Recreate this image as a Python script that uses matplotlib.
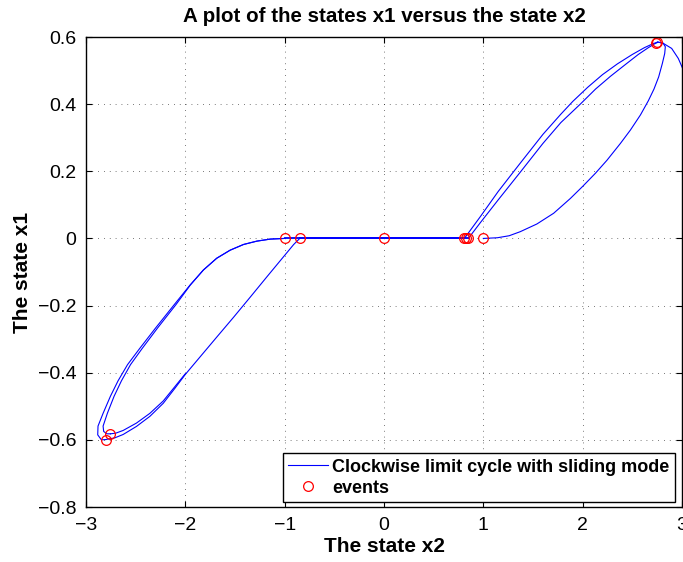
import matplotlib
matplotlib.use("Agg")
import matplotlib.pyplot as plt

plt.rcParams['font.family'] = ['Liberation Sans', 'DejaVu Sans']

# right loop, lower arc: (1,0) up to the peak
right_low_x = [1.0, 1.141, 1.26, 1.371, 1.539, 1.708, 1.876, 2.0, 2.128, 2.245, 2.38, 2.481,
               2.582, 2.661, 2.718, 2.765, 2.802, 2.826, 2.832, 2.809, 2.755]
right_low_y = [0.0, 0.002, 0.008, 0.02, 0.043, 0.075, 0.119, 0.155, 0.194, 0.233, 0.283, 0.323,
               0.368, 0.41, 0.445, 0.481, 0.521, 0.551, 0.571, 0.582, 0.585]

# right loop, the two upper strands from the zero line up to the peak
right_up1_x = [0.809, 0.97, 1.15, 1.371, 1.6, 1.78, 1.9, 2.05, 2.2, 2.35, 2.5, 2.62, 2.7, 2.745]
right_up1_y = [0.0, 0.065, 0.14, 0.224, 0.31, 0.37, 0.408, 0.45, 0.488, 0.52, 0.548, 0.568,
               0.579, 0.584]
right_up2_x = [0.849, 0.97, 1.15, 1.371, 1.6, 1.78, 1.976, 2.13, 2.28, 2.43, 2.56, 2.66, 2.72, 2.755]
right_up2_y = [0.0, 0.047, 0.115, 0.197, 0.283, 0.345, 0.4, 0.445, 0.483, 0.518, 0.548, 0.568,
               0.579, 0.584]

# piece leaving the plot on the right
right_out_x = [2.755, 2.812, 2.896, 2.963, 3.007]
right_out_y = [0.585, 0.581, 0.566, 0.536, 0.506]

# sliding mode on x1 = 0
slide1_x = [-1.0, 0.849]
slide1_y = [0.0, 0.0]
slide2_x = [-0.848, 0.809]
slide2_y = [0.0, 0.0]

# left loop, upper arcs from (-1,0) down to the bottom
left_up1_x = [-1.0, -1.145, -1.279, -1.414, -1.549, -1.684, -1.818, -1.953, -2.111, -2.3,
              -2.46, -2.582, -2.677, -2.754, -2.828, -2.879, -2.882, -2.845, -2.801]
left_up1_y = [0.0, -0.002, -0.008, -0.018, -0.035, -0.059, -0.094, -0.139, -0.197, -0.267,
              -0.328, -0.376, -0.424, -0.47, -0.521, -0.559, -0.585, -0.6, -0.599]
left_up2_x = [-1.0, -1.145, -1.279, -1.414, -1.549, -1.684, -1.818, -1.95, -2.094, -2.28,
              -2.435, -2.552, -2.643, -2.717, -2.785, -2.828, -2.822, -2.79, -2.754]
left_up2_y = [0.0, -0.002, -0.008, -0.018, -0.035, -0.059, -0.094, -0.139, -0.197, -0.267,
              -0.328, -0.376, -0.424, -0.47, -0.521, -0.559, -0.575, -0.582, -0.582]

# left loop, lower side from the bottom up to (-0.85,0)
left_low1_x = [-2.801, -2.71, -2.626, -2.492, -2.357, -2.222, -2.104, -2.0, -1.852, -1.684,
               -1.515, -1.347, -1.178, -1.01, -0.909, -0.848]
left_low1_y = [-0.599, -0.594, -0.584, -0.56, -0.53, -0.491, -0.446, -0.405, -0.353, -0.294,
               -0.235, -0.175, -0.114, -0.054, -0.018, 0.0]
left_low2_x = [-2.754, -2.7, -2.626, -2.492, -2.357, -2.222, -2.104, -2.0]
left_low2_y = [-0.582, -0.58, -0.572, -0.55, -0.521, -0.484, -0.441, -0.403]

# events
event_x = [1.0, 2.742, 2.752, 0.849, 0.829, 0.809, 0.0, -1.0, -0.848, -2.801, -2.754]
event_y = [0.0, 0.582, 0.584, 0.0, 0.0, 0.0, 0.0, 0.0, 0.0, -0.599, -0.582]

fig = plt.figure(figsize=(6.83, 5.62), dpi=100)
ax = fig.add_axes([86 / 683, 55 / 562, 596 / 683, 470 / 562])

segs = [(right_low_x, right_low_y), (right_up1_x, right_up1_y), (right_up2_x, right_up2_y),
        (right_out_x, right_out_y), (left_up1_x, left_up1_y), (left_up2_x, left_up2_y),
        (left_low1_x, left_low1_y), (left_low2_x, left_low2_y)]
for i, (sx, sy) in enumerate(segs):
    ax.plot(sx, sy, color='blue', lw=0.8, solid_joinstyle='round',
            label='Clockwise limit cycle with sliding mode' if i == 0 else None)
# the sliding part is run over many times, so it looks thicker
ax.plot(slide1_x, slide1_y, color='blue', lw=1.3)
ax.plot(slide2_x, slide2_y, color='blue', lw=1.3)
ax.plot(event_x, event_y, 'o', mfc='none', mec='red', ms=7, mew=0.9, label='events')

ax.set_xlim(-3, 3)
ax.set_ylim(-0.8, 0.6)
ax.set_xticks([-3, -2, -1, 0, 1, 2, 3])
ax.set_yticks([-0.8, -0.6, -0.4, -0.2, 0, 0.2, 0.4, 0.6])
ax.set_yticklabels(['\u22120.8', '\u22120.6', '\u22120.4', '\u22120.2', '0', '0.2', '0.4', '0.6'])
ax.set_xticklabels(['\u22123', '\u22122', '\u22121', '0', '1', '2', '3'])
ax.tick_params(direction='in', top=True, right=True, labelsize=14, length=4.5, width=0.8, pad=7)
ax.grid(True, linestyle=(0, (1, 6)), color='black', linewidth=0.6, alpha=0.7)
for s in ax.spines.values():
    s.set_linewidth(1.0)

ax.set_title('A plot of the states x1 versus the state x2', fontsize=14.8, fontweight='bold', pad=11)
ax.set_xlabel('The state x2', fontsize=15, fontweight='bold', labelpad=2)
ax.set_ylabel('The state x1', fontsize=15, fontweight='bold', labelpad=4)

leg = ax.legend(loc='lower right', bbox_to_anchor=(675 / 683, 60 / 562),
                bbox_transform=fig.transFigure, prop={'weight': 'bold', 'size': 13},
                fancybox=False, edgecolor='black', framealpha=1, borderaxespad=0,
                handlelength=2.2, labelspacing=0.22, borderpad=0.3, handletextpad=0.25)
leg.get_frame().set_linewidth(1.0)

fig.savefig('out.png', dpi=100)
